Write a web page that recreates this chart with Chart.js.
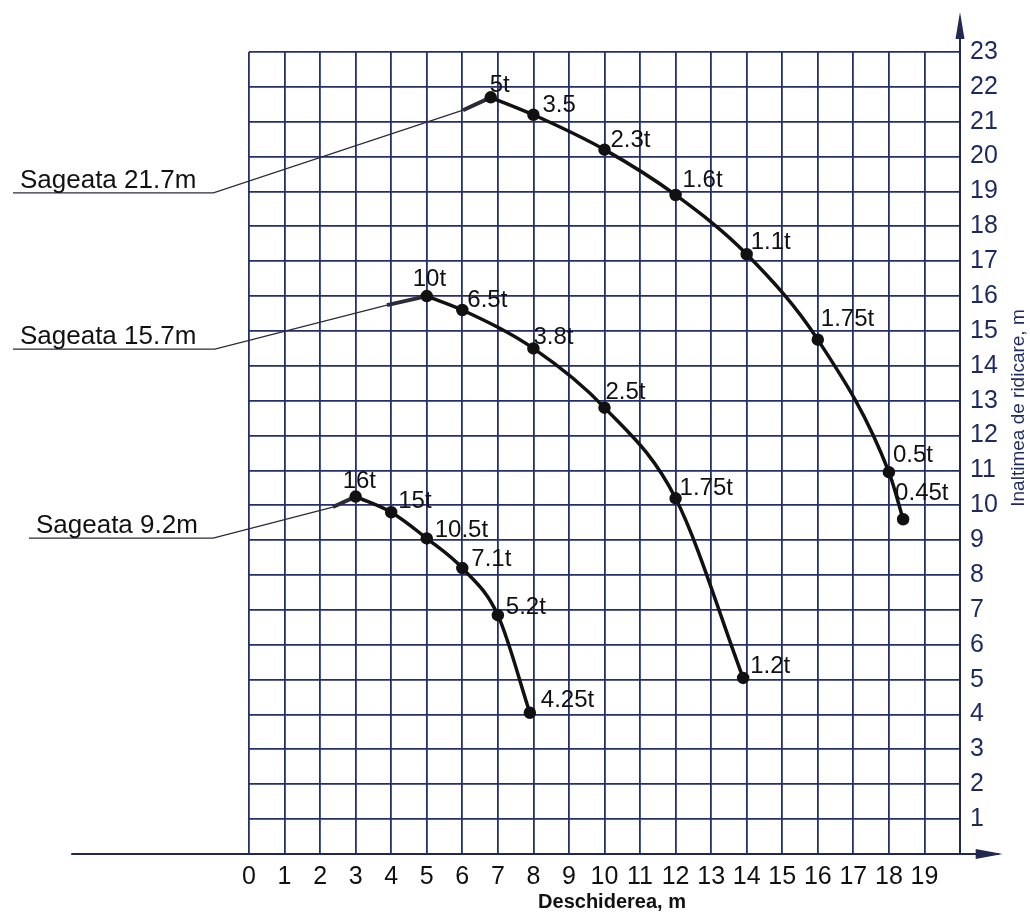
<!DOCTYPE html>
<html>
<head>
<meta charset="utf-8">
<title>Diagrama de sarcina macara</title>
<script src="https://cdn.jsdelivr.net/npm/chart.js@4.4.0/dist/chart.umd.min.js"></script>
<style>
    html, body { margin: 0; padding: 0; background: #fff; }
    #wrap { width: 1030px; height: 914px; }
</style>
</head>
<body>
<div id="wrap"><canvas id="loadChart" width="1030" height="914"></canvas></div>
<script>
// ── Data (deschiderea in m, inaltimea in m, sarcina) ─────────
const boom217X = [6.8, 8, 10, 12, 14, 16, 18, 18.4];
const boom217Y = [21.7, 21.2, 20.2, 18.9, 17.2, 14.75, 10.95, 9.6];
const boom217Loads = ["5t", "3.5", "2.3t", "1.6t", "1.1t", "1.75t", "0.5t", "0.45t"];

const boom157X = [5, 6, 8, 10, 12, 13.9];
const boom157Y = [16.0, 15.6, 14.5, 12.8, 10.2, 5.05];
const boom157Loads = ["10t", "6.5t", "3.8t", "2.5t", "1.75t", "1.2t"];

const boom92X = [3, 4, 5, 6, 7, 7.9];
const boom92Y = [10.25, 9.8, 9.05, 8.2, 6.85, 4.05];
const boom92Loads = ["16t", "15t", "10.5t", "7.1t", "5.2t", "4.25t"];

const boomNames = ["Sageata 21.7m", "Sageata 15.7m", "Sageata 9.2m"];

// leader lines, from the first point of each curve back to the boom name
const leader217X = [6.8, 6.02, -1.0, -6.64];
const leader217Y = [21.7, 21.33, 18.96, 18.96];
const leader157X = [5, 3.88, -0.96, -6.64];
const leader157Y = [16.0, 15.74, 14.48, 14.48];
const leader92X = [3, 2.36, -1.01, -6.19];
const leader92Y = [10.25, 9.95, 9.06, 9.06];

const xTicksMax = 20;
const yTicksMax = 23;
const xAxisTitle = "Deschiderea, m";
const yAxisTitle = "Inaltimea de ridicare, m";

// ── Label placement (pixel offsets of text left / baseline from the point) ──
const offsets217 = [[-1, -5], [9, -3], [6, -3], [7, -8], [4, -5], [3, -14], [4, -10], [-8, -19]];
const offsets157 = [[-14, -10], [5, -3], [0, -4], [1, -9], [4, -3], [7, -5]];
const offsets92 = [[-13, -9], [7, -4], [8, -1], [9, -2], [8, -1], [11, -6]];

const FONT = "'Liberation Sans', Arial, sans-serif";
const GRID = "#24306a";
const INK = "#111111";

const toPoints = (xs, ys) => xs.map((x, i) => ({ x, y: ys[i] }));

function curveDataset(xs, ys, loads, offsets) {
    return {
        data: toPoints(xs, ys),
        loads,
        offsets,
        showLine: true,
        borderColor: INK,
        backgroundColor: INK,
        borderWidth: 3.5,
        cubicInterpolationMode: "monotone",
        pointRadius: 4.5,
        pointHoverRadius: 4.5,
        clip: false
    };
}

function leaderDataset(xs, ys, name) {
    return {
        data: toPoints(xs, ys),
        boomName: name,
        showLine: true,
        borderColor: "#2b2b3a",
        borderWidth: 1.3,
        pointRadius: 0,
        tension: 0,
        clip: false,
        segment: {
            // short heavy stroke where the leader meets the curve
            borderWidth: (ctx) => ctx.p0DataIndex === 0 ? 4 : 1.3
        }
    };
}

// ── Texts and arrows drawn around the chart ───────────────
const annotations = {
    id: "annotations",
    afterDatasetsDraw(chart) {
        const { ctx, scales: { x, y } } = chart;
        ctx.save();

        // axis lines with arrows
        const yBase = y.getPixelForValue(0);
        const xRight = x.getPixelForValue(xTicksMax);
        ctx.strokeStyle = "#22284f";
        ctx.fillStyle = "#22284f";
        ctx.lineWidth = 2;
        ctx.beginPath();
        ctx.moveTo(x.getPixelForValue(-5), yBase);
        ctx.lineTo(x.getPixelForValue(21.1), yBase);
        ctx.moveTo(xRight, yBase);
        ctx.lineTo(xRight, y.getPixelForValue(24.0));
        ctx.stroke();

        const xTip = x.getPixelForValue(21.2);
        ctx.beginPath();
        ctx.moveTo(xTip, yBase);
        ctx.lineTo(xTip - 27, yBase - 5);
        ctx.lineTo(xTip - 27, yBase + 5);
        ctx.closePath();
        ctx.fill();

        const yTip = y.getPixelForValue(24.15);
        ctx.beginPath();
        ctx.moveTo(xRight, yTip);
        ctx.lineTo(xRight - 4.5, yTip + 27);
        ctx.lineTo(xRight + 4.5, yTip + 27);
        ctx.closePath();
        ctx.fill();

        // load labels next to the points
        ctx.fillStyle = INK;
        ctx.font = "24px " + FONT;
        ctx.textBaseline = "alphabetic";
        ctx.textAlign = "left";
        chart.data.datasets.forEach((ds, i) => {
            if (!ds.loads) {
                return;
            }
            const meta = chart.getDatasetMeta(i);
            meta.data.forEach((pt, j) => {
                const [dx, dy] = ds.offsets[j];
                ctx.fillText(ds.loads[j], pt.x + dx, pt.y + dy);
            });
        });

        // boom names sitting on the underline (last leader point)
        ctx.font = "26px " + FONT;
        chart.data.datasets.forEach((ds, i) => {
            if (!ds.boomName) {
                return;
            }
            const pts = chart.getDatasetMeta(i).data;
            const start = pts[pts.length - 1];
            ctx.fillText(ds.boomName, start.x + 7, start.y - 5);
        });

        // axis titles
        ctx.font = "bold 20px " + FONT;
        ctx.textAlign = "center";
        ctx.fillText(xAxisTitle, 612, 908);

        ctx.fillStyle = "#1e2a5e";
        ctx.font = "19px " + FONT;
        ctx.translate(1019, 408);
        ctx.rotate(-Math.PI / 2);
        ctx.textBaseline = "middle";
        ctx.fillText(yAxisTitle, 0, 0);

        ctx.restore();
    }
};

new Chart(document.getElementById("loadChart"), {
    type: "scatter",
    data: {
        datasets: [
            curveDataset(boom217X, boom217Y, boom217Loads, offsets217),
            curveDataset(boom157X, boom157Y, boom157Loads, offsets157),
            curveDataset(boom92X, boom92Y, boom92Loads, offsets92),
            leaderDataset(leader217X, leader217Y, boomNames[0]),
            leaderDataset(leader157X, leader157Y, boomNames[1]),
            leaderDataset(leader92X, leader92Y, boomNames[2])
        ]
    },
    options: {
        responsive: false,
        animation: false,
        layout: {
            padding: { left: 249, top: 52, right: 0, bottom: 0 }
        },
        plugins: {
            legend: { display: false },
            tooltip: { enabled: false }
        },
        scales: {
            x: {
                type: "linear",
                position: "bottom",
                min: 0,
                max: xTicksMax,
                afterFit: (scale) => { scale.height = 60; },
                border: { display: false },
                grid: {
                    color: GRID,
                    lineWidth: 1.8,
                    drawTicks: false
                },
                ticks: {
                    stepSize: 1,
                    autoSkip: false,
                    maxRotation: 0,
                    padding: 8,
                    color: INK,
                    font: { family: FONT, size: 25 },
                    callback: (value) => value === xTicksMax ? "" : value
                }
            },
            y: {
                type: "linear",
                position: "right",
                min: 0,
                max: yTicksMax,
                afterFit: (scale) => { scale.width = 70; },
                border: { display: false },
                grid: {
                    color: GRID,
                    lineWidth: 1.8,
                    drawTicks: false
                },
                ticks: {
                    stepSize: 1,
                    autoSkip: false,
                    padding: 10,
                    color: "#1e2a5e",
                    font: { family: FONT, size: 25 },
                    callback: (value) => value === 0 ? "" : value
                }
            }
        }
    },
    plugins: [annotations]
});
</script>
</body>
</html>
